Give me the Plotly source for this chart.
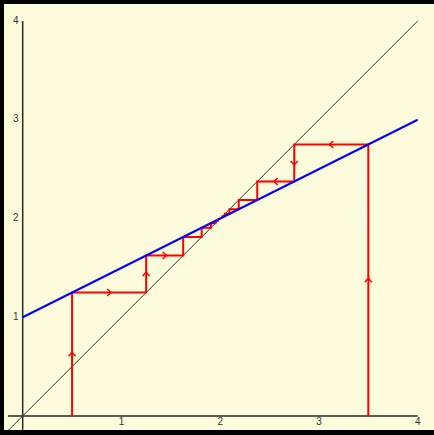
import plotly.graph_objects as go

# ---- data ----
map_x = [0.0, 4.0]            # y = 1 + x/2 (blue)
map_y = [1.0, 3.0]
diag_x = [-0.15, 4.0]         # y = x reference
diag_y = [-0.15, 4.0]
iter_low = [0.5, 1.25, 1.625, 1.8125, 1.90625, 1.953, 1.977, 1.988]
iter_high = [3.5, 2.75, 2.375, 2.1875, 2.09375, 2.047, 2.023, 2.012]
tick_vals = [1, 2, 3, 4]
tick_text = ["1", "2", "3", "4"]

W, H = 434, 435
PX = 98.75          # pixels per unit
X0PX, Y0PX = 22.7, 416.0
xr = [-X0PX / PX, (W - X0PX) / PX]
yr = [-(H - Y0PX) / PX, Y0PX / PX]

def cobweb(its):
    xs, ys = [its[0]], [0.0]
    for a, b in zip(its[:-1], its[1:]):
        xs += [a, b]
        ys += [b, b]
    return xs, ys

def chevrons(xs, ys, min_len=0.2, depth=4.0, half=3.5):
    cx, cy = [], []
    d, h = depth / PX, half / PX
    for i in range(len(xs) - 1):
        x1, y1, x2, y2 = xs[i], ys[i], xs[i + 1], ys[i + 1]
        L = abs(x2 - x1) + abs(y2 - y1)
        if L < min_len:
            continue
        mx, my = (x1 + x2) / 2, (y1 + y2) / 2
        ux = (x2 - x1) / L
        uy = (y2 - y1) / L
        tx, ty = mx + ux * d / 2, my + uy * d / 2
        bx, by = tx - ux * d, ty - uy * d
        px_, py_ = -uy * h, ux * h
        cx += [bx + px_, tx, bx - px_, None]
        cy += [by + py_, ty, by - py_, None]
    return cx, cy

fig = go.Figure()

# axes lines
fig.add_trace(go.Scatter(x=[-0.15, 4.0], y=[0, 0], mode="lines",
                         line=dict(color="#2a2a2a", width=1.5), hoverinfo="skip"))
fig.add_trace(go.Scatter(x=[0, 0], y=[-0.14, 4.0], mode="lines",
                         line=dict(color="#2a2a2a", width=1.5), hoverinfo="skip"))
# diagonal
fig.add_trace(go.Scatter(x=diag_x, y=diag_y, mode="lines",
                         line=dict(color="#333333", width=1), hoverinfo="skip"))

# cobwebs
for its in (iter_low, iter_high):
    xs, ys = cobweb(its)
    fig.add_trace(go.Scatter(x=xs, y=ys, mode="lines",
                             line=dict(color="#ff0000", width=2), hoverinfo="skip"))
    cx, cy = chevrons(xs, ys)
    fig.add_trace(go.Scatter(x=cx, y=cy, mode="lines",
                             line=dict(color="#ff0000", width=1.5), hoverinfo="skip"))

# map line
fig.add_trace(go.Scatter(x=map_x, y=map_y, mode="lines",
                         line=dict(color="#0000ff", width=2), hoverinfo="skip"))

# tick labels
fig.add_trace(go.Scatter(x=tick_vals, y=[-0.07] * 4, mode="text", text=tick_text,
                         textfont=dict(family="Liberation Sans, Arial", size=10, color="#333333"),
                         hoverinfo="skip"))
fig.add_trace(go.Scatter(x=[-0.07] * 4, y=tick_vals, mode="text", text=tick_text,
                         textfont=dict(family="Liberation Sans, Arial", size=10, color="#333333"),
                         hoverinfo="skip"))

# frame bands
shapes = [
    dict(type="rect", xref="paper", yref="paper", x0=0, x1=4 / W, y0=0, y1=1,
         fillcolor="black", line=dict(width=0), layer="above"),
    dict(type="rect", xref="paper", yref="paper", x0=0, x1=1, y0=1 - 4 / H, y1=1,
         fillcolor="black", line=dict(width=0), layer="above"),
    dict(type="rect", xref="paper", yref="paper", x0=0, x1=1, y0=0, y1=5 / H,
         fillcolor="black", line=dict(width=0), layer="above"),
]

fig.update_layout(
    width=W, height=H, margin=dict(l=0, r=0, t=0, b=0),
    paper_bgcolor="#fcfcdc", plot_bgcolor="#fcfcdc",
    showlegend=False, shapes=shapes,
    xaxis=dict(range=xr, visible=False, fixedrange=True),
    yaxis=dict(range=yr, visible=False, fixedrange=True),
)

fig.write_html(
    "out.html",
    config={"displayModeBar": False},
    post_script="document.body.style.margin='0';document.body.style.overflow='hidden';",
)
